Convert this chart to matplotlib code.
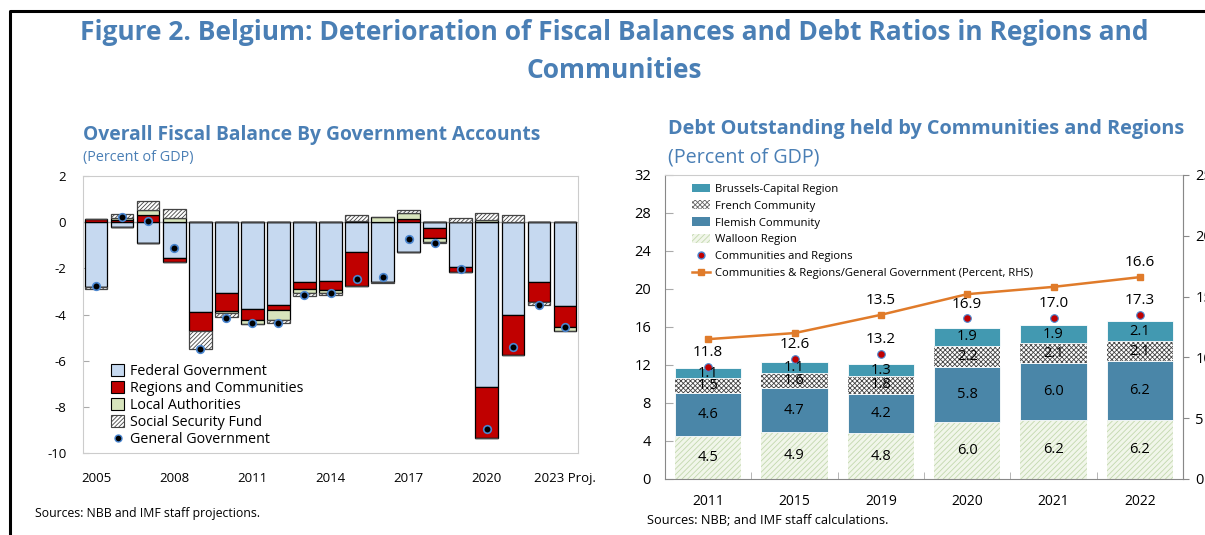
import matplotlib
matplotlib.use("Agg")
import matplotlib.pyplot as plt
import numpy as np
from matplotlib.patches import Patch
from matplotlib.lines import Line2D

plt.rcParams['font.family'] = ['Open Sans', 'DejaVu Sans']
plt.rcParams['hatch.linewidth'] = 0.6
plt.rcParams['axes.unicode_minus'] = False

BLUE_TITLE = '#4A7FB5'

# ---- left panel: overall fiscal balance (percent of GDP) ----
years = list(range(2005, 2024))
federal = [-2.80, -0.19, -0.91, -1.57, -3.90, -3.07, -3.77, -3.60, -2.61, -2.54,
           -1.30, -2.61, -1.30, -0.25, -1.96, -7.14, -4.03, -2.58, -3.64]
regions = [0.15, 0.10, 0.32, -0.16, -0.83, -0.80, -0.48, -0.19, -0.29, -0.39,
           -1.45, 0.00, 0.14, -0.45, -0.19, -2.20, -1.71, -0.90, -0.90]
local = [0.00, 0.09, 0.19, 0.20, 0.00, -0.08, -0.17, -0.46, -0.17, -0.16,
         0.07, 0.22, 0.25, -0.14, 0.00, 0.10, 0.00, 0.00, -0.17]
ssf = [-0.10, 0.17, 0.39, 0.38, -0.78, -0.17, 0.00, -0.13, -0.13, -0.05,
       0.22, -0.04, 0.14, -0.07, 0.17, 0.29, 0.29, -0.12, 0.00]
general = [-2.75, 0.22, 0.03, -1.13, -5.48, -4.13, -4.38, -4.38, -3.17, -3.09,
           -2.46, -2.39, -0.72, -0.91, -2.03, -8.94, -5.42, -3.59, -4.52]
left_ticklabels = ['2005', '2008', '2011', '2014', '2017', '2020', '2023 Proj.']

# ---- right panel: debt outstanding (percent of GDP) ----
debt_years = ['2011', '2015', '2019', '2020', '2021', '2022']
walloon = [4.5, 4.9, 4.8, 6.0, 6.2, 6.2]
flemish = [4.6, 4.7, 4.2, 5.8, 6.0, 6.2]
french = [1.5, 1.6, 1.8, 2.2, 2.1, 2.1]
brussels = [1.1, 1.1, 1.3, 1.9, 1.9, 2.1]
comm_total = [11.8, 12.6, 13.2, 16.9, 17.0, 17.3]
share_gg = [11.5, 12.0, 13.5, 15.2, 15.8, 16.6]
share_labels = [None, None, '13.5', None, None, '16.6']

W, H = 1205, 535
fig = plt.figure(figsize=(W / 100, H / 100), dpi=100)


def px_axes(x0, y0, x1, y1):
    return fig.add_axes([x0 / W, 1 - y1 / H, (x1 - x0) / W, (y1 - y0) / H])


# frame lines (left and top)
fig.add_artist(Line2D([10 / W, 10 / W, 1], [0, 1 - 11 / H, 1 - 11 / H],
                      transform=fig.transFigure, color='black', lw=2.2))

fig.text(0.51, 1 - 33 / H, 'Figure 2. Belgium: Deterioration of Fiscal Balances and Debt Ratios in Regions and',
         ha='center', va='center', fontsize=19, fontweight='bold', color=BLUE_TITLE)
fig.text(0.51, 1 - 70 / H, 'Communities', ha='center', va='center',
         fontsize=19, fontweight='bold', color=BLUE_TITLE)

# ================= left chart =================
ax = px_axes(83, 176, 578, 453)
x = np.arange(len(years))
series = [
    (federal, dict(color='#C6D9F0', edgecolor='black')),
    (regions, dict(color='#C00000', edgecolor='black')),
    (local, dict(color='#D7E4BC', edgecolor='black')),
    (ssf, dict(color='white', edgecolor='#444444', hatch='////////')),
]
pos_base = np.zeros(len(years))
neg_base = np.zeros(len(years))
for vals, style in series:
    v = np.array(vals)
    pos = np.where(v > 0, v, 0)
    neg = np.where(v < 0, v, 0)
    ax.bar(x, pos, 0.87, bottom=pos_base, linewidth=0.9, **style, zorder=2)
    ax.bar(x, neg, 0.87, bottom=neg_base, linewidth=0.9, **style, zorder=2)
    pos_base += pos
    neg_base += neg

ax.scatter(x, general, s=30, color='black', edgecolor='#4A86D0', linewidth=1.2, zorder=4)
ax.axhline(0, color='#AAAAAA', lw=1, zorder=1)

ax.set_xlim(-0.5, len(years) - 0.5)
ax.set_ylim(-10, 2)
ax.set_yticks(np.arange(-10, 3, 2))
ax.set_xticks(x[::3])
ax.set_xticklabels(left_ticklabels, fontsize=9.5)
ax.tick_params(axis='x', length=0, pad=14)
ax.tick_params(axis='y', direction='in', length=4, color='#AAAAAA', labelsize=9.5, pad=12)
for s in ax.spines.values():
    s.set_color('#CCCCCC')

handles = [
    Patch(facecolor='#C6D9F0', edgecolor='black', lw=0.8, label='Federal Government'),
    Patch(facecolor='#C00000', edgecolor='black', lw=0.8, label='Regions and Communities'),
    Patch(facecolor='#D7E4BC', edgecolor='black', lw=0.8, label='Local Authorities'),
    Patch(facecolor='white', edgecolor='#444444', hatch='////////', lw=0.8, label='Social Security Fund'),
    Line2D([], [], marker='o', ls='none', color='black', markeredgecolor='#4A86D0',
           markersize=5, label='General Government'),
]
fig.legend(handles=handles, loc='upper left', bbox_to_anchor=(104 / W, 1 - 357 / H),
           frameon=False, fontsize=10.3, handlelength=0.9, handleheight=0.9,
           handletextpad=0.4, labelspacing=0.14, borderpad=0)

fig.text(83 / W, 1 - 135 / H, 'Overall Fiscal Balance By Government Accounts',
         ha='left', va='center', fontsize=13.9, fontweight='bold', color=BLUE_TITLE)
fig.text(83 / W, 1 - 157 / H, '(Percent of GDP)', ha='left', va='center',
         fontsize=10.4, color=BLUE_TITLE)
fig.text(35 / W, 1 - 513 / H, 'Sources: NBB and IMF staff projections.',
         ha='left', va='center', fontsize=8.8)

# ================= right chart =================
ax2 = px_axes(665, 175, 1183, 479)
xr = np.arange(len(debt_years))
bw = 0.77
bottom = np.zeros(len(debt_years))
rstack = [
    (walloon, dict(color='#F1F6EA', edgecolor='#C3D8AE', hatch='//////', linewidth=0)),
    (flemish, dict(color='#4A86A8', edgecolor='white', linewidth=0.6)),
    (french, dict(color='white', edgecolor='#444444', hatch='xxxxxxx', linewidth=0)),
    (brussels, dict(color='#4299B1', edgecolor='white', linewidth=0.6)),
]
for vals, style in rstack:
    v = np.array(vals)
    ax2.bar(xr, v, bw, bottom=bottom, zorder=2, **style)
    for xi, b, h in zip(xr, bottom, v):
        ax2.text(xi, b + h / 2, f'{h:.1f}', ha='center', va='center', fontsize=10.5, zorder=5)
    bottom += v

ax2.scatter(xr, comm_total, s=30, color='#C00000', edgecolor='#4A86D0', linewidth=0.8, zorder=4)
for xi, t in zip(xr, comm_total):
    ax2.annotate(f'{t:.1f}', (xi, t), xytext=(0, 5), textcoords='offset points',
                 ha='center', va='bottom', fontsize=11)

ax2.set_xlim(-0.5, len(debt_years) - 0.5)
ax2.set_ylim(0, 32)
ax2.set_yticks(np.arange(0, 33, 4))
ax2.set_xticks(xr)
ax2.set_xticklabels(debt_years, fontsize=10)
ax2.set_xticks(xr[:-1] + 0.5, minor=True)
ax2.tick_params(axis='x', which='major', length=0, pad=11)
ax2.tick_params(axis='x', which='minor', direction='in', length=5, color='#AAAAAA')
ax2.tick_params(axis='y', direction='in', length=6, color='#AAAAAA', labelsize=10.5, pad=10)
for s in ax2.spines.values():
    s.set_color('#CCCCCC')
ax2.spines['left'].set_color('#888888')
ax2.spines['bottom'].set_color('#888888')

ax3 = ax2.twinx()
ax3.plot(xr, share_gg, color='#E07B2A', lw=1.8, marker='s', markersize=5, zorder=3)
for xi, v, lab in zip(xr, share_gg, share_labels):
    if lab:
        ax3.annotate(lab, (xi, v), xytext=(0, 5), textcoords='offset points',
                     ha='center', va='bottom', fontsize=11)
ax3.set_ylim(0, 25)
ax3.set_yticks(np.arange(0, 26, 5))
ax3.tick_params(axis='y', direction='out', length=4, color='#888888', labelsize=10.5, pad=5)
for s in ax3.spines.values():
    s.set_visible(False)
ax3.spines['right'].set_visible(True)
ax3.spines['right'].set_color('#888888')

rhandles = [
    Patch(facecolor='#4299B1', edgecolor='none', label='Brussels-Capital Region'),
    Patch(facecolor='white', edgecolor='#666666', hatch='xxxxxxx', lw=0, label='French Community'),
    Patch(facecolor='#4A86A8', edgecolor='none', label='Flemish Community'),
    Patch(facecolor='#F1F6EA', edgecolor='#C3D8AE', hatch='//////', lw=0, label='Walloon Region'),
    Line2D([], [], marker='o', ls='none', color='#C00000', markeredgecolor='#4A86D0',
           markersize=5, label='Communities and Regions'),
    Line2D([], [], marker='s', color='#E07B2A', lw=1.8, markersize=4,
           label='Communities & Regions/General Government (Percent, RHS)'),
]
fig.legend(handles=rhandles, loc='upper left', bbox_to_anchor=(686 / W, 1 - 178 / H),
           frameon=False, fontsize=8.1, handlelength=1.6, handleheight=0.8,
           handletextpad=0.5, labelspacing=0.5, borderpad=0)

fig.text(668 / W, 1 - 129 / H, 'Debt Outstanding held by Communities and Regions',
         ha='left', va='center', fontsize=14.3, fontweight='bold', color=BLUE_TITLE)
fig.text(668 / W, 1 - 158 / H, '(Percent of GDP)', ha='left', va='center',
         fontsize=14.2, color=BLUE_TITLE)
fig.text(647 / W, 1 - 520 / H, 'Sources: NBB; and IMF staff calculations.',
         ha='left', va='center', fontsize=9.2)

fig.savefig('out.png', dpi=100)
